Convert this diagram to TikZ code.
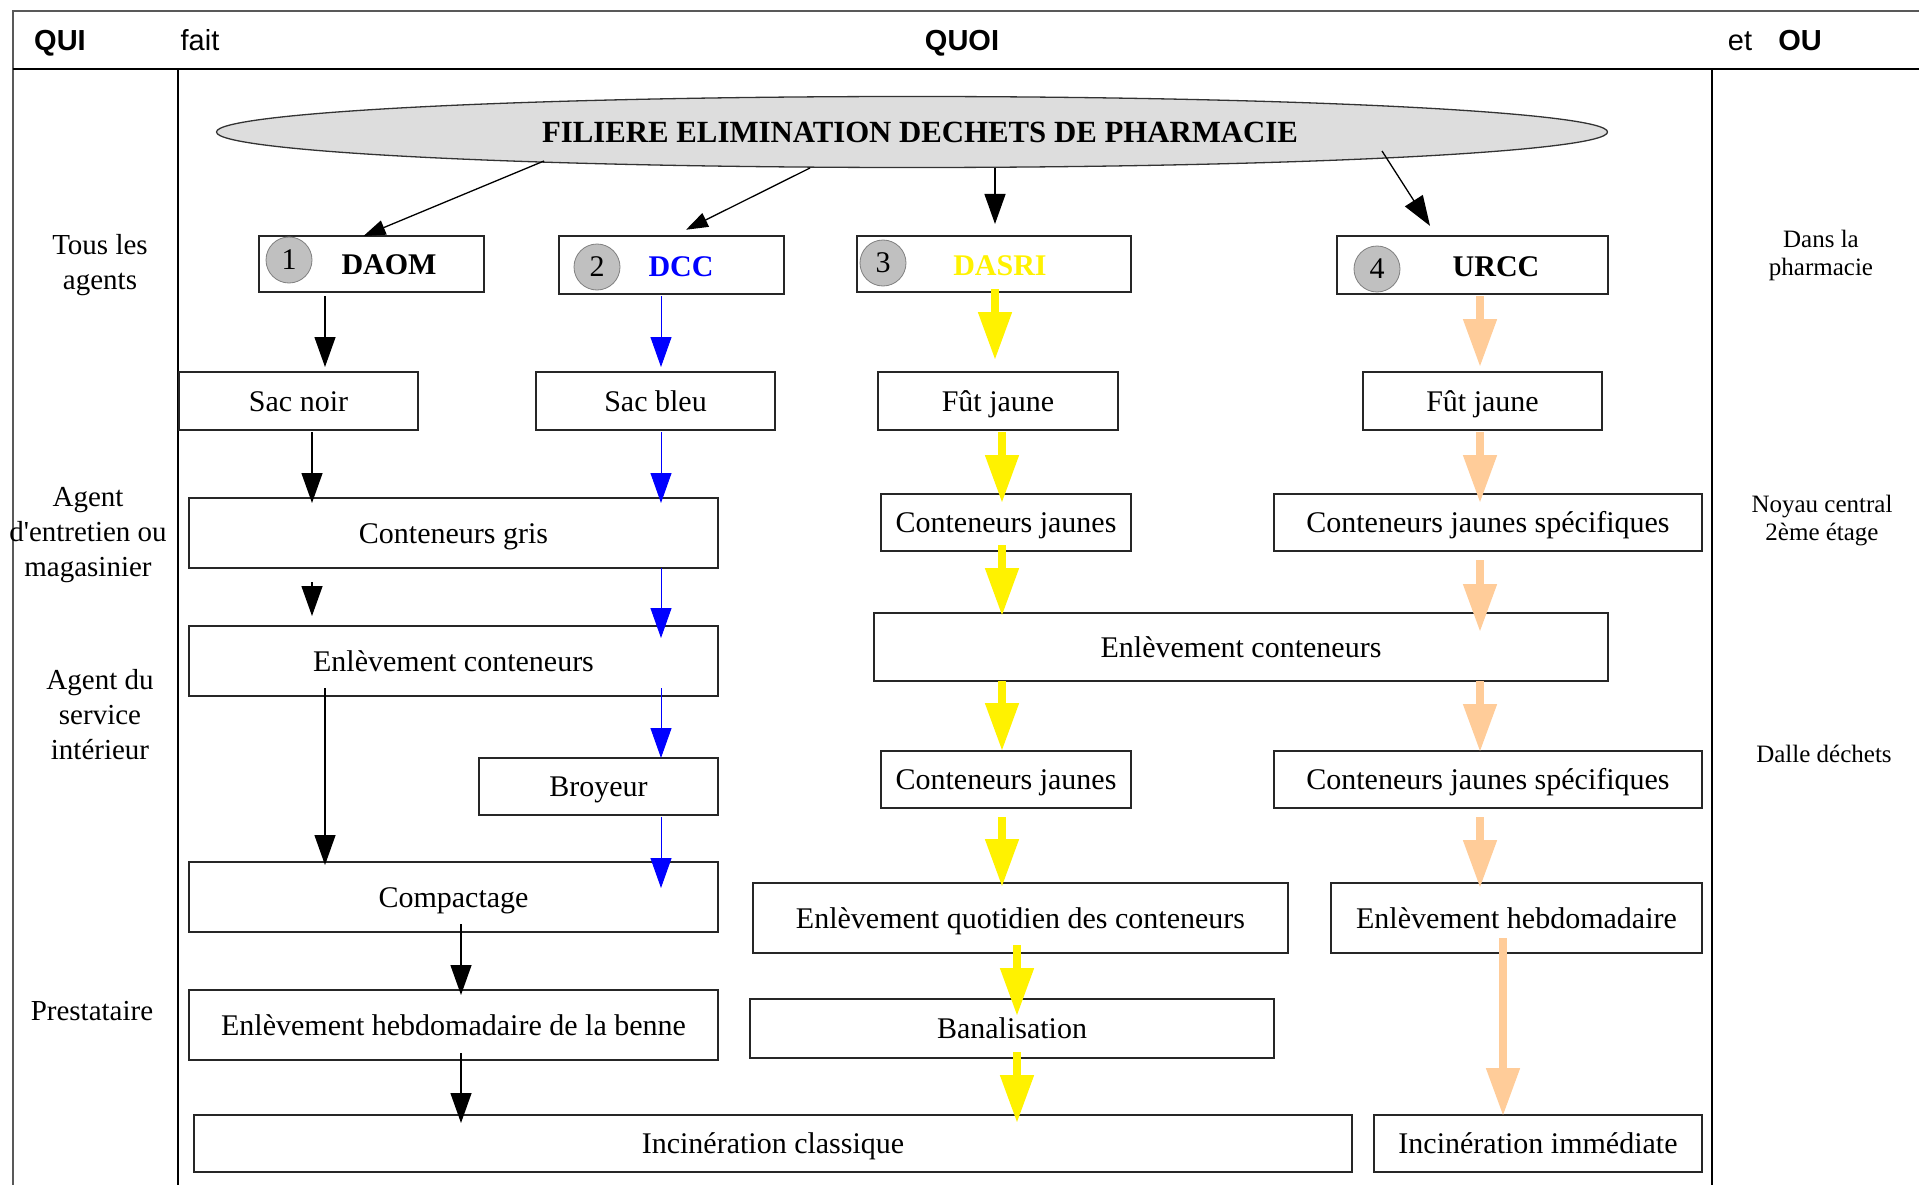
\documentclass[tikz,border=0pt]{standalone}
\usepackage{fontspec}
\setmainfont{Liberation Serif}
\newfontfamily\hdsans{Liberation Sans}
\usetikzlibrary{arrows.meta,shapes.geometric}
\definecolor{peach}{HTML}{FFCC99}
\definecolor{ovalgris}{HTML}{DDDDDD}
\definecolor{numgris}{HTML}{C0C0C0}
\tikzset{
  boite/.style={draw=black!85, line width=1.6pt, inner sep=0pt, outer sep=0pt, text height=25pt, text depth=5pt, font=\fontsize{30}{36}\selectfont},
  num/.style={circle, draw=gray, fill=numgris, line width=0.8pt, minimum size=46pt, inner sep=0pt, font=\fontsize{30}{36}\selectfont},
  titre/.style={font=\fontsize{30}{36}\selectfont\bfseries},
  qui/.style={align=center, font=\fontsize{29}{35}\selectfont},
  ou/.style={align=center, font=\fontsize{25}{28}\selectfont},
  entete/.style={anchor=base, font=\hdsans\fontsize{29}{35}\selectfont},
  cadre/.style={line width=1.6pt},
  fl/.style={line width=1.3pt, -{Triangle[length=30pt,width=21pt]}},
  flp/.style={line width=1.3pt, -{Triangle[length=22pt,width=15pt]}},
  flb/.style={fl, color=blue, line width=1pt},
  fly/.style={color=yellow, line width=8pt, -{Triangle[length=48pt,width=32pt]}},
  flo/.style={fly, color=peach}
}
\begin{document}
\begin{tikzpicture}[x=1pt,y=-1pt]
\useasboundingbox (0,0) rectangle (1919,1185);
\draw[cadre, black!65] (13,1185) -- (13,11) -- (1919,11);
\draw[cadre] (13,69) -- (1919,69);
\draw[cadre] (178,69) -- (178,1185);
\draw[cadre] (1712,69) -- (1712,1185);
\node[entete] (qui) at (60,51) {\bfseries QUI};
\node[entete] (fait) at (200,51) {fait};
\node[entete] (quoi) at (962,51) {\bfseries QUOI};
\node[entete] (et) at (1740,51) {et};
\node[entete] (ouh) at (1800,51) {\bfseries OU};

\node[qui] (tous) at (100,265) {Tous les\\agents};
\node[qui] (entretien) at (88,535) {Agent\\d\textquotesingle entretien ou\\magasinier};
\node[qui] (interieur) at (100,715) {Agent du\\service\\intérieur};
\node[qui] (presta) at (92,1011) {Prestataire};
\node[ou] (pharma) at (1821,255) {Dans la\\pharmacie};
\node[ou] (noyau) at (1822,521) {Noyau central\\2ème étage};
\node[ou] (dalle) at (1824,754) {Dalle déchets};

\node[ellipse, draw=black!80, fill=ovalgris, line width=1.3pt, minimum width=1391pt, minimum height=71pt, inner sep=0pt, titre, font=\fontsize{30.8}{36}\selectfont\bfseries] (filiere) at (912,132) {\hspace{16pt}FILIERE ELIMINATION DECHETS DE PHARMACIE};

\node[boite, minimum width=225pt, minimum height=56pt] (daom) at (371.5,264) {};
\node[boite, minimum width=225pt, minimum height=58pt] (dcc) at (671.5,265) {};
\node[boite, minimum width=274pt, minimum height=56pt] (dasri) at (994,264) {};
\node[boite, minimum width=271pt, minimum height=58pt] (urcc) at (1472.5,265) {};
\node[titre] (daomt) at (389,265) {DAOM};
\node[titre, text=blue] (dcct) at (681,267) {DCC};
\node[titre, text=yellow] (dasrit) at (1000,266) {DASRI};
\node[titre] (urcct) at (1496,267) {URCC};
\node[num] (n1) at (289,260) {1};
\node[num] (n2) at (597,267) {2};
\node[num] (n3) at (883,263) {3};
\node[num] (n4) at (1377,269) {4};

\node[boite, minimum width=239pt, minimum height=58pt] (sacnoir) at (298.5,401) {Sac noir};
\node[boite, minimum width=239pt, minimum height=58pt] (sacbleu) at (655.5,401) {Sac bleu};
\node[boite, minimum width=240pt, minimum height=58pt] (fut1) at (998,401) {Fût jaune};
\node[boite, minimum width=239pt, minimum height=58pt] (fut2) at (1482.5,401) {Fût jaune};
\node[boite, minimum width=529pt, minimum height=70pt] (congris) at (453.5,533) {Conteneurs gris};
\node[boite, minimum width=250pt, minimum height=57pt] (conj1) at (1006,522.5) {Conteneurs jaunes};
\node[boite, minimum width=428pt, minimum height=57pt] (cjs1) at (1488,522.5) {Conteneurs jaunes spécifiques};
\node[boite, minimum width=529pt, minimum height=70pt] (enlev1) at (453.5,661) {Enlèvement conteneurs};
\node[boite, minimum width=734pt, minimum height=68pt] (enlev2) at (1241,647) {Enlèvement conteneurs};
\node[boite, minimum width=239pt, minimum height=57pt] (broyeur) at (598.5,786.5) {Broyeur};
\node[boite, minimum width=250pt, minimum height=57pt] (conj2) at (1006,779.5) {Conteneurs jaunes};
\node[boite, minimum width=428pt, minimum height=57pt] (cjs2) at (1488,779.5) {Conteneurs jaunes spécifiques};
\node[boite, minimum width=529pt, minimum height=70pt] (compact) at (453.5,897) {Compactage};
\node[boite, minimum width=535pt, minimum height=70pt] (quotid) at (1020.5,918) {Enlèvement quotidien des conteneurs};
\node[boite, minimum width=371pt, minimum height=70pt] (hebdo) at (1516.5,918) {Enlèvement hebdomadaire};
\node[boite, minimum width=529pt, minimum height=70pt] (benne) at (453.5,1025) {Enlèvement hebdomadaire de la benne};
\node[boite, minimum width=524pt, minimum height=59pt] (banal) at (1012,1028.5) {Banalisation};
\node[boite, minimum width=1158pt, minimum height=57pt] (incincl) at (773,1143.5) {Incinération classique};
\node[boite, minimum width=328pt, minimum height=57pt] (incimm) at (1538,1143.5) {Incinération immédiate};

\coordinate (kA) at (325,0); \coordinate (kB) at (312,0); \coordinate (kC) at (461,0);
\coordinate (kD) at (661,0);
\coordinate (kE) at (995,0); \coordinate (kF) at (1002,0); \coordinate (kG) at (1017,0);
\coordinate (kH) at (1480,0); \coordinate (kI) at (1503,0);

\draw[flp] ([xshift=-368pt,yshift=-29pt]filiere.center) -- ([xshift=-8pt]daom.north);
\draw[flp, shorten >=14pt] ([xshift=-102pt,yshift=-36pt]filiere.center) -- ([xshift=2pt]dcc.north);
\draw[fl, shorten >=12pt] ([xshift=83pt,yshift=-36pt]filiere.center) -- ([xshift=83pt]filiere.center |- dasri.north);
\draw[fl, shorten >=12pt] ([xshift=470pt,yshift=-19pt]filiere.center) -- ([xshift=-36pt]urcc.north);

\draw[fl, shorten <=4pt, shorten >=5pt] (daom.south -| kA) -- (sacnoir.north -| kA);
\draw[fl, shorten <=2pt, shorten >=-5pt] (sacnoir.south -| kB) -- (congris.north -| kB);
\draw[fl, shorten <=14pt, shorten >=10pt] (congris.south -| kB) -- (enlev1.north -| kB);
\draw[fl, shorten <=-8pt, shorten >=-3pt] (enlev1.south -| kA) -- (compact.north -| kA);
\draw[fl, shorten <=-8pt, shorten >=-5pt] (compact.south -| kC) -- (benne.north -| kC);
\draw[fl, shorten <=-7pt, shorten >=-8pt] (benne.south -| kC) -- (incincl.north -| kC);

\draw[flb, shorten <=2pt, shorten >=5pt] (dcc.south -| kD) -- (sacbleu.north -| kD);
\draw[flb, shorten <=2pt, shorten >=-5pt] (sacbleu.south -| kD) -- (congris.north -| kD);
\draw[flb, shorten >=-12pt] (congris.south -| kD) -- (enlev1.north -| kD);
\draw[flb, shorten <=-8pt] (enlev1.south -| kD) -- (broyeur.north -| kD);
\draw[flb, shorten <=2pt, shorten >=-26pt] (broyeur.south -| kD) -- (compact.north -| kD);

\draw[fly, shorten <=-3pt, shorten >=12pt] (dasri.south -| kE) -- (fut1.north -| kE);
\draw[fly, shorten <=2pt, shorten >=-9pt] (fut1.south -| kF) -- (conj1.north -| kF);
\draw[fly, shorten <=-6pt, shorten >=-3pt] (conj1.south -| kF) -- (enlev2.north -| kF);
\draw[fly] (enlev2.south -| kF) -- (conj2.north -| kF);
\draw[fly, shorten <=9pt, shorten >=-4pt] (conj2.south -| kF) -- (quotid.north -| kF);
\draw[fly, shorten <=-8pt, shorten >=-17pt] (quotid.south -| kG) -- (banal.north -| kG);
\draw[fly, shorten <=-6pt, shorten >=-8pt] (banal.south -| kG) -- (incincl.north -| kG);

\draw[flo, shorten <=2pt, shorten >=5pt] (urcc.south -| kH) -- (fut2.north -| kH);
\draw[flo, shorten <=2pt, shorten >=-9pt] (fut2.south -| kH) -- (cjs1.north -| kH);
\draw[flo, shorten <=9pt, shorten >=-19pt] (cjs1.south -| kH) -- (enlev2.north -| kH);
\draw[flo, shorten >=-1pt] (enlev2.south -| kH) -- (cjs2.north -| kH);
\draw[flo, shorten <=9pt, shorten >=-5pt] (cjs2.south -| kH) -- (hebdo.north -| kH);
\draw[flo, shorten <=-15pt, shorten >=-1pt] (hebdo.south -| kI) -- (incimm.north -| kI);
\end{tikzpicture}
\end{document}
